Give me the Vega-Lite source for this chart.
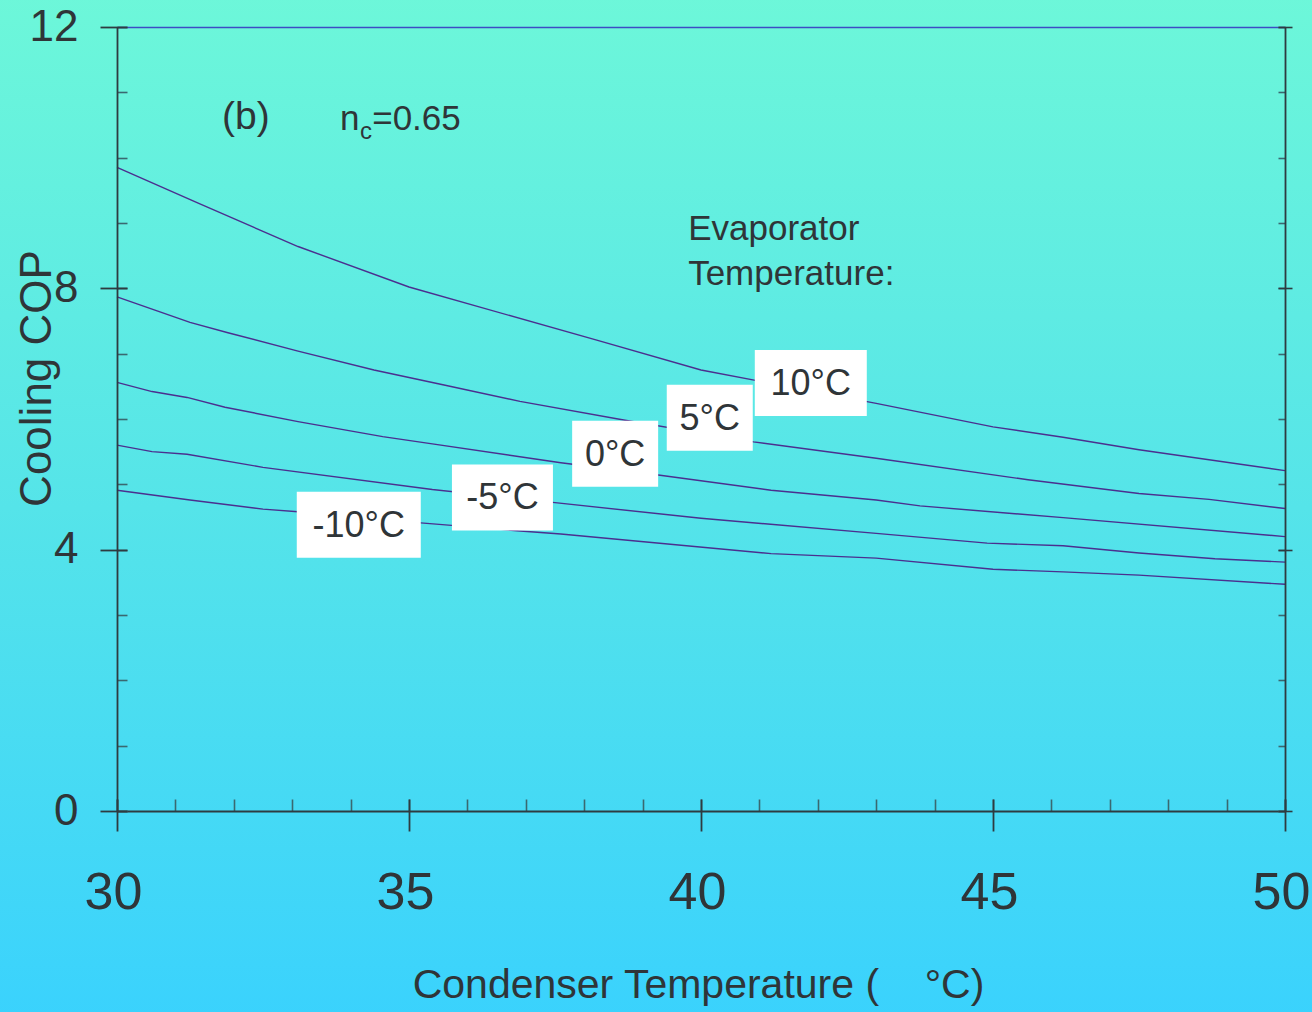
{
  "$schema": "https://vega.github.io/schema/vega-lite/v6.json",
  "width": 1168,
  "height": 784,
  "autosize": {"type": "none"},
  "padding": {"left": 117, "top": 27, "right": 27, "bottom": 201},
  "background": "#52e2ec",
  "config": {
    "view": {"stroke": null},
    "font": "Liberation Sans",
    "axis": {
      "grid": false,
      "labelFont": "Liberation Sans",
      "titleFont": "Liberation Sans",
      "labelColor": "#2f3538",
      "titleColor": "#2f3538",
      "titleFontWeight": "normal",
      "domainColor": "#2e3b40",
      "domainWidth": 1.8,
      "tickColor": "#3a6870",
      "tickWidth": 1.6,
      "labelFlush": false,
      "labelOverlap": false
    }
  },
  "datasets": {
    "cop": [
      {"T": 30, "COP": 9.85, "evap": "10"},
      {"T": 31.4, "COP": 9.3, "evap": "10"},
      {"T": 33.1, "COP": 8.64, "evap": "10"},
      {"T": 35, "COP": 8.02, "evap": "10"},
      {"T": 38.2, "COP": 7.21, "evap": "10"},
      {"T": 40, "COP": 6.75, "evap": "10"},
      {"T": 41, "COP": 6.58, "evap": "10"},
      {"T": 43, "COP": 6.24, "evap": "10"},
      {"T": 45, "COP": 5.88, "evap": "10"},
      {"T": 46.2, "COP": 5.72, "evap": "10"},
      {"T": 47.5, "COP": 5.53, "evap": "10"},
      {"T": 50, "COP": 5.21, "evap": "10"},
      {"T": 30, "COP": 7.87, "evap": "5"},
      {"T": 31.25, "COP": 7.48, "evap": "5"},
      {"T": 31.9, "COP": 7.32, "evap": "5"},
      {"T": 33.1, "COP": 7.04, "evap": "5"},
      {"T": 34.4, "COP": 6.75, "evap": "5"},
      {"T": 35.6, "COP": 6.52, "evap": "5"},
      {"T": 36.9, "COP": 6.27, "evap": "5"},
      {"T": 38.7, "COP": 5.98, "evap": "5"},
      {"T": 40.9, "COP": 5.65, "evap": "5"},
      {"T": 43, "COP": 5.4, "evap": "5"},
      {"T": 45.6, "COP": 5.07, "evap": "5"},
      {"T": 47.5, "COP": 4.86, "evap": "5"},
      {"T": 48.7, "COP": 4.77, "evap": "5"},
      {"T": 50, "COP": 4.63, "evap": "5"},
      {"T": 30, "COP": 6.56, "evap": "0"},
      {"T": 30.6, "COP": 6.42, "evap": "0"},
      {"T": 31.2, "COP": 6.33, "evap": "0"},
      {"T": 31.85, "COP": 6.18, "evap": "0"},
      {"T": 33.1, "COP": 5.96, "evap": "0"},
      {"T": 34.55, "COP": 5.73, "evap": "0"},
      {"T": 35.4, "COP": 5.62, "evap": "0"},
      {"T": 37.6, "COP": 5.33, "evap": "0"},
      {"T": 39.3, "COP": 5.14, "evap": "0"},
      {"T": 41.2, "COP": 4.91, "evap": "0"},
      {"T": 43, "COP": 4.76, "evap": "0"},
      {"T": 43.75, "COP": 4.67, "evap": "0"},
      {"T": 46.2, "COP": 4.49, "evap": "0"},
      {"T": 50, "COP": 4.2, "evap": "0"},
      {"T": 30, "COP": 5.6, "evap": "-5"},
      {"T": 30.6, "COP": 5.5, "evap": "-5"},
      {"T": 31.2, "COP": 5.46, "evap": "-5"},
      {"T": 32.5, "COP": 5.26, "evap": "-5"},
      {"T": 35.4, "COP": 4.92, "evap": "-5"},
      {"T": 37.5, "COP": 4.72, "evap": "-5"},
      {"T": 40, "COP": 4.48, "evap": "-5"},
      {"T": 43, "COP": 4.25, "evap": "-5"},
      {"T": 44.9, "COP": 4.1, "evap": "-5"},
      {"T": 46.2, "COP": 4.06, "evap": "-5"},
      {"T": 47.5, "COP": 3.95, "evap": "-5"},
      {"T": 48.8, "COP": 3.86, "evap": "-5"},
      {"T": 50, "COP": 3.81, "evap": "-5"},
      {"T": 30, "COP": 4.91, "evap": "-10"},
      {"T": 31.25, "COP": 4.76, "evap": "-10"},
      {"T": 32.5, "COP": 4.62, "evap": "-10"},
      {"T": 33.1, "COP": 4.58, "evap": "-10"},
      {"T": 35.2, "COP": 4.41, "evap": "-10"},
      {"T": 36.85, "COP": 4.29, "evap": "-10"},
      {"T": 37.6, "COP": 4.24, "evap": "-10"},
      {"T": 41.2, "COP": 3.94, "evap": "-10"},
      {"T": 43, "COP": 3.87, "evap": "-10"},
      {"T": 45, "COP": 3.7, "evap": "-10"},
      {"T": 46.2, "COP": 3.66, "evap": "-10"},
      {"T": 47.5, "COP": 3.61, "evap": "-10"},
      {"T": 50, "COP": 3.47, "evap": "-10"}
    ],
    "labels": [
      {"x": 41.88, "y": 6.55, "label": "10°C"},
      {"x": 40.15, "y": 6.02, "label": "5°C"},
      {"x": 38.53, "y": 5.47, "label": "0°C"},
      {"x": 36.6, "y": 4.8, "label": "-5°C"},
      {"x": 34.14, "y": 4.38, "label": "-10°C"}
    ],
    "notes": [
      {"x": 33.82, "y": 10.42, "text": "n"},
      {"x": 34.37, "y": 10.42, "text": "=0.65"},
      {"x": 39.78, "y": 8.74, "text": "Evaporator"},
      {"x": 39.78, "y": 8.05, "text": "Temperature:"}
    ],
    "panel": [{"x": 31.8, "y": 10.44, "text": "(b)"}],
    "sub": [{"x": 34.16, "y": 10.29, "text": "c"}]
  },
  "resolve": {"axis": {"x": "independent", "y": "independent"}},
  "layer": [
    {
      "data": {"values": [{}]},
      "mark": {
        "type": "rect",
        "fill": {
          "gradient": "linear",
          "x1": 0, "y1": 0, "x2": 0, "y2": 1,
          "stops": [
            {"offset": 0, "color": "#6df7d9"},
            {"offset": 0.5, "color": "#55e4e9"},
            {"offset": 1, "color": "#3ad2fd"}
          ]
        }
      },
      "encoding": {
        "x": {"datum": 27.9, "type": "quantitative", "scale": {"domain": [30, 50], "nice": false, "zero": false}, "axis": null},
        "x2": {"datum": 50.6},
        "y": {"datum": -3.2, "type": "quantitative", "scale": {"domain": [0, 12], "nice": false, "zero": false}, "axis": null},
        "y2": {"datum": 12.5}
      }
    },
    {
      "data": {"name": "cop"},
      "mark": {"type": "line", "color": "#4b2f8f", "strokeWidth": 1.4},
      "encoding": {
        "x": {
          "field": "T", "type": "quantitative",
          "scale": {"domain": [30, 50], "nice": false, "zero": false},
          "axis": {
            "zindex": 2,
            "orient": "bottom", "values": [30, 35, 40, 45, 50], "offset": -12, "tickSize": 32,
            "domain": false, "tickColor": "#2e3b40", "tickWidth": 1.8,
            "labelFontSize": 52, "labelPadding": 36, "labelOffset": -4, "title": null
          }
        },
        "y": {
          "field": "COP", "type": "quantitative",
          "scale": {"domain": [0, 12], "nice": false, "zero": false},
          "axis": {
            "zindex": 2,
            "orient": "left", "values": [0, 4, 8, 12], "offset": -10, "tickSize": 27,
            "domain": false, "tickColor": "#2e3b40", "tickWidth": 1.8,
            "labelFontSize": 44, "labelPadding": 22, "title": null
          }
        },
        "detail": {"field": "evap"}
      }
    },
    {
      "data": {"name": "labels"},
      "mark": {
        "type": "rect", "fill": "white", "align": "center", "baseline": "middle", "height": 66,
        "width": {"expr": "datum.label == '-10°C' ? 124 : datum.label == '-5°C' ? 101 : datum.label == '10°C' ? 112 : 86"}
      },
      "encoding": {
        "x": {
          "field": "x", "type": "quantitative",
          "scale": {"domain": [30, 50], "nice": false, "zero": false},
          "axis": {
            "zindex": 1,
            "orient": "bottom",
            "values": [30, 31, 32, 33, 34, 35, 36, 37, 38, 39, 40, 41, 42, 43, 44, 45, 46, 47, 48, 49, 50],
            "tickSize": -12, "domain": true, "labels": false,
            "title": "Condenser Temperature (\u00a0\u00a0\u00a0\u00a0°C)", "titleFontSize": 41,
            "titleX": 581, "titleY": 186, "titleBaseline": "alphabetic", "titleAlign": "center"
          }
        },
        "y": {
          "field": "y", "type": "quantitative",
          "scale": {"domain": [0, 12], "nice": false, "zero": false},
          "axis": {
            "zindex": 1,
            "orient": "left",
            "values": [0, 1, 2, 3, 4, 5, 6, 7, 8, 9, 10, 11, 12],
            "tickSize": -10, "domain": true, "labels": false,
            "title": "Cooling COP", "titleFontSize": 44, "titleAngle": -90,
            "titleX": -67, "titleY": 351, "titleBaseline": "alphabetic", "titleAlign": "center"
          }
        }
      }
    },
    {
      "data": {"name": "labels"},
      "mark": {"type": "text", "fontSize": 36, "align": "center", "baseline": "alphabetic", "dy": 12, "color": "#2f3538"},
      "encoding": {
        "x": {
          "field": "x", "type": "quantitative",
          "scale": {"domain": [30, 50], "nice": false, "zero": false},
          "axis": {"zindex": 1, "orient": "top", "domain": true, "domainColor": "#3c4cc4", "domainWidth": 1.6, "ticks": false, "labels": false, "title": null}
        },
        "y": {
          "field": "y", "type": "quantitative",
          "scale": {"domain": [0, 12], "nice": false, "zero": false},
          "axis": {
            "zindex": 1,
            "orient": "right",
            "values": [0, 1, 2, 3, 4, 5, 6, 7, 8, 9, 10, 11, 12],
            "tickSize": -7, "domain": true, "labels": false, "title": null
          }
        },
        "text": {"field": "label"}
      }
    },
    {
      "data": {"name": "notes"},
      "mark": {"type": "text", "fontSize": 35, "align": "left", "baseline": "alphabetic", "color": "#2f3538"},
      "encoding": {
        "x": {"field": "x", "type": "quantitative", "scale": {"domain": [30, 50], "nice": false, "zero": false}, "axis": null},
        "y": {
          "field": "y", "type": "quantitative",
          "scale": {"domain": [0, 12], "nice": false, "zero": false},
          "axis": {
            "zindex": 2,
            "orient": "right", "values": [0, 4, 8, 12], "offset": -7, "tickSize": 14,
            "domain": false, "labels": false, "title": null, "tickColor": "#2e3b40"
          }
        },
        "text": {"field": "text"}
      }
    },
    {
      "data": {"name": "panel"},
      "mark": {"type": "text", "fontSize": 39, "align": "left", "baseline": "alphabetic", "color": "#2f3538"},
      "encoding": {
        "x": {"field": "x", "type": "quantitative", "scale": {"domain": [30, 50], "nice": false, "zero": false}, "axis": null},
        "y": {"field": "y", "type": "quantitative", "scale": {"domain": [0, 12], "nice": false, "zero": false}, "axis": null},
        "text": {"field": "text"}
      }
    },
    {
      "data": {"name": "sub"},
      "mark": {"type": "text", "fontSize": 24, "align": "left", "baseline": "alphabetic", "color": "#2f3538"},
      "encoding": {
        "x": {"field": "x", "type": "quantitative", "scale": {"domain": [30, 50], "nice": false, "zero": false}, "axis": null},
        "y": {"field": "y", "type": "quantitative", "scale": {"domain": [0, 12], "nice": false, "zero": false}, "axis": null},
        "text": {"field": "text"}
      }
    }
  ]
}
